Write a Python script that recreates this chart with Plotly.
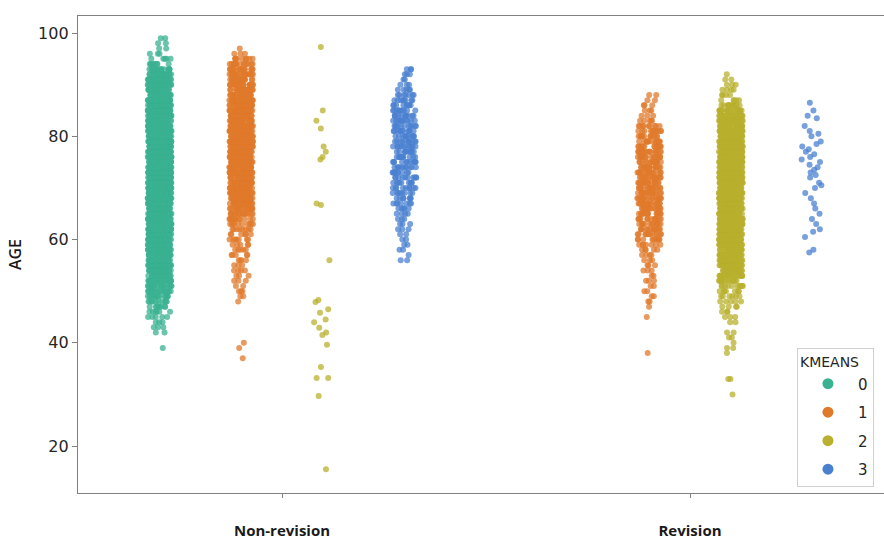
import numpy as np
import plotly.graph_objects as go

categories = ["Non-revision", "Revision"]
clusters = ["0", "1", "2", "3"]
colors = ["#3ab292", "#e07a2b", "#b8b02e", "#4a80d0"]

# (age, count) pairs
c0_nonrev = [(39,1),(42,2),(43,3),(44,3),(45,5),(46,6),(47,8),(48,10),(49,14),(50,18),(51,22),(52,26),(53,30),(54,33),
             (55,36),(56,37),(57,38),(58,38),(59,39),(60,40),(61,40),(62,41),(63,41),(64,41),(65,42),(66,42),(67,42),
             (68,42),(69,42),(70,42),(71,42),(72,42),(73,42),(74,42),(75,42),(76,42),(77,42),(78,42),(79,42),(80,42),
             (81,42),(82,42),(83,42),(84,41),(85,41),(86,40),(87,39),(88,38),(89,36),(90,34),(91,30),(92,24),(93,16),
             (94,8),(95,5),(96,3),(97,2),(98,2),(99,2)]
c1_nonrev = [(37,1),(39,1),(40,1),(48,1),(49,2),(50,3),(51,2),(52,3),(53,3),(54,4),(55,3),(56,4),(57,5),(58,5),(59,5),
             (60,7),(61,6),(62,8),(63,10),(64,12),(65,16),(66,20),(67,24),(68,28),(69,30),(70,30),(71,30),(72,30),(73,30),
             (74,30),(75,30),(76,30),(77,30),(78,30),(79,30),(80,30),(81,30),(82,30),(83,30),(84,30),(85,29),(86,28),
             (87,27),(88,25),(89,23),(90,21),(91,20),(92,19),(93,17),(94,14),(95,9),(96,3),(97,1)]
c1_rev = [(38,1),(45,1),(47,1),(48,2),(49,2),(50,2),(51,2),(52,3),(53,2),(54,3),(55,3),(56,3),(57,4),(58,5),(59,7),
          (60,9),(61,11),(62,12),(63,13),(64,14),(65,15),(66,16),(67,16),(68,16),(69,16),(70,16),(71,16),(72,16),(73,16),
          (74,16),(75,16),(76,16),(77,16),(78,15),(79,14),(80,13),(81,11),(82,9),(83,5),(84,3),(85,3),(86,3),(87,2),(88,2)]
c2_nonrev_ages = [97.3, 85, 83, 81.5, 78, 77, 76, 75.5, 67, 66.7, 56, 48.3, 47.9, 46.5, 45.8, 44.5, 44, 42.9, 42,
                  41.5, 39.6, 35.3, 33.2, 33.2, 29.7, 15.5]
c2_rev = [(30,1),(33,2),(38,1),(39,2),(40,1),(41,2),(42,2),(44,2),(45,3),(46,3),(47,4),(48,5),(49,6),(50,7),(51,10),
          (52,14),(53,20),(54,27),(55,33),(56,36),(57,38),(58,38),(59,39),(60,40),(61,40),(62,40),(63,40),(64,40),
          (65,40),(66,40),(67,40),(68,40),(69,40),(70,40),(71,40),(72,40),(73,40),(74,40),(75,40),(76,40),(77,40),
          (78,40),(79,39),(80,38),(81,37),(82,36),(83,34),(84,30),(85,22),(86,12),(87,5),(88,4),(89,4),(90,3),
          (91,2),(92,1)]
c3_nonrev = [(56,2),(57,1),(58,2),(59,2),(60,2),(61,2),(62,3),(63,3),(64,3),(65,4),(66,5),(67,7),(68,7),(69,8),
             (70,9),(71,9),(72,10),(73,10),(74,10),(75,11),(76,11),(77,11),(78,11),(79,11),(80,11),(81,11),(82,11),(83,11),
             (84,11),(85,10),(86,9),(87,8),(88,7),(89,5),(90,3),(91,2),(92,3),(93,3)]
c3_rev_ages = [86.5, 85, 84, 83.5, 82, 81, 80.5, 80, 79, 78.5, 78, 77.5, 77, 76.5, 76, 75.5, 75, 74.5, 74, 73.5,
               73, 72.5, 72, 71, 70.5, 70, 69, 68, 67, 66, 65, 64, 63, 62, 61.5, 60.5, 58, 57.5]


def expand(pairs):
    return list(np.repeat([a for a, c in pairs], [c for a, c in pairs]).astype(float))


groups = {
    "0": {"Non-revision": expand(c0_nonrev), "Revision": []},
    "1": {"Non-revision": expand(c1_nonrev), "Revision": expand(c1_rev)},
    "2": {"Non-revision": c2_nonrev_ages, "Revision": expand(c2_rev)},
    "3": {"Non-revision": expand(c3_nonrev), "Revision": c3_rev_ages},
}

fig = go.Figure()
for k, col in zip(clusters, colors):
    xs, ys = [], []
    for cat in categories:
        vals = groups[k][cat]
        xs += [cat] * len(vals)
        ys += list(vals)
    fig.add_trace(go.Box(
        x=xs, y=ys, name=k, showlegend=False,
        boxpoints="all", jitter=0.29, pointpos=0,
        fillcolor="rgba(0,0,0,0)", line=dict(width=0, color="rgba(0,0,0,0)"),
        whiskerwidth=0, hoveron="points",
        marker=dict(color=col, size=6, opacity=0.75, line=dict(width=0)),
    ))
for k, col in zip(clusters, colors):
    fig.add_trace(go.Scatter(x=[None], y=[None], mode="markers", name=k, legendgroup=k,
                             marker=dict(color=col, size=11)))

fig.update_layout(
    width=884, height=542,
    margin=dict(l=78, r=0, t=16, b=49),
    paper_bgcolor="white", plot_bgcolor="white",
    boxmode="group", boxgap=0.2, boxgroupgap=0,
    font=dict(family="DejaVu Sans", color="#262626"),
    legend=dict(title=dict(text="KMEANS", font=dict(size=14)), font=dict(size=15),
                x=0.892, xanchor="left", y=0.012, yanchor="bottom",
                itemwidth=50, tracegroupgap=6,
                bordercolor="#d0d0d0", borderwidth=1, bgcolor="rgba(255,255,255,0.8)"),
)
fig.update_xaxes(type="category", categoryorder="array", categoryarray=categories,
                 range=[-0.5, 1.4755], showline=True, linecolor="#808080", linewidth=1.3, mirror=True,
                 ticks="outside", ticklen=4, tickcolor="#808080", showgrid=False, zeroline=False,
                 tickfont=dict(family="Open Sans", size=15, weight="bold", color="#1a1a1a"),
                 ticklabelstandoff=20)
fig.update_yaxes(range=[10.9, 103.3], tickvals=[20, 40, 60, 80, 100], showline=True, linecolor="#808080",
                 linewidth=1.3, ticks="outside", ticklen=5, tickcolor="#808080", showgrid=False, zeroline=False,
                 tickfont=dict(size=16, color="#262626"),
                 title=dict(text="AGE", font=dict(family="Open Sans", size=16, weight=600, color="#1a1a1a"),
                            standoff=12))
fig.write_html("out.html")
